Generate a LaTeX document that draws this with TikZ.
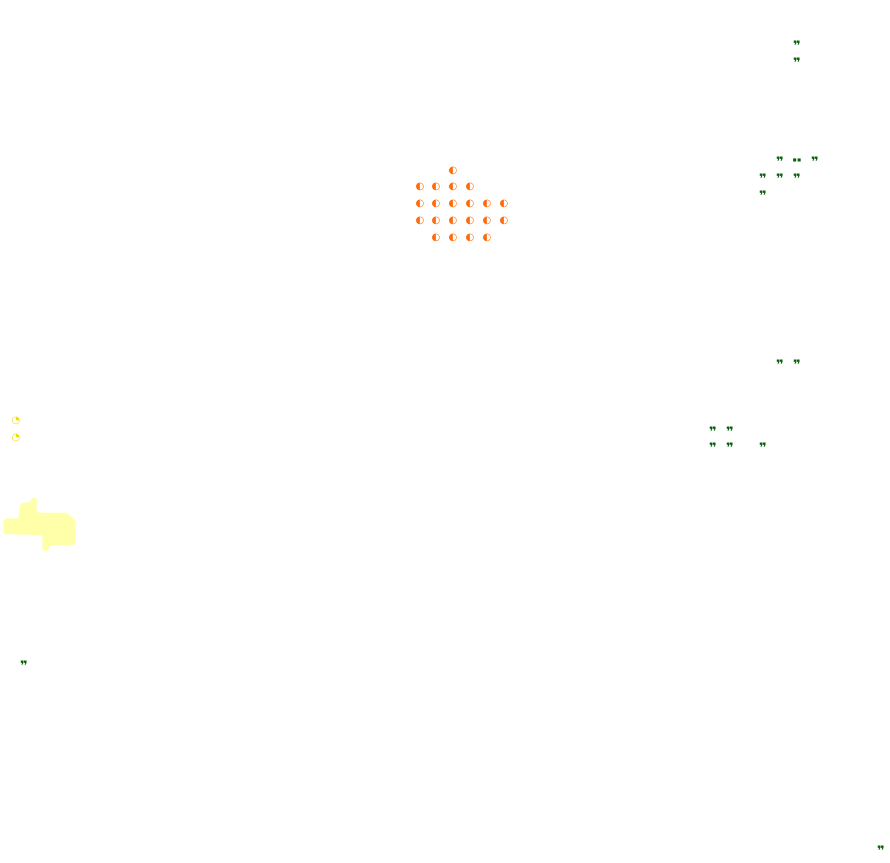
\documentclass[tikz,border=0pt]{standalone}
\usepackage{fontspec}
\newfontfamily\symfont{DejaVu Sans}
\tikzset{
  gmark/.style={inner sep=0pt, text=mkgreen, yshift=-4pt, font=\symfont\bfseries\fontsize{13}{13}\selectfont},
  omark/.style={inner sep=0pt, text=mkorange, yshift=-1.5pt, font=\symfont\fontsize{10}{10}\selectfont},
  ymark/.style={inner sep=0pt, text=mkyellow, yshift=-1pt, font=\symfont\fontsize{10}{10}\selectfont},
}
\definecolor{mkgreen}{HTML}{0B5E0B}
\definecolor{mkorange}{HTML}{FF6A0A}
\definecolor{mkyellow}{HTML}{F0DC10}
\definecolor{blob}{HTML}{FFFFAA}
\begin{document}
\begin{tikzpicture}[x=1pt,y=-1pt]
\useasboundingbox (0,0) rectangle (890,862);
% yellow area
\fill[blob, rounded corners=1pt] (3.3,521) -- (6,518.3) -- (18.3,518.3) -- (20,505) -- (21,503.3) -- (29.3,502.3) -- (34,496.7) -- (36.7,499) -- (36.7,511.7) -- (38.3,512.7) -- (66.7,512.7) -- (75.7,521) -- (75.7,543.3) -- (73.3,545) -- (50,545) -- (49.3,549) -- (45,551.7) -- (42.3,549) -- (42.3,535) -- (6,534.3) -- (3.3,531.7) -- cycle;
% green marks
\foreach \n/\x/\y in {g1/797/42, g2/797/59, g3/780/158, g5/815/158,
  g6/763/175, g7/780/175, g8/797/175, g9/763/192, g10/780/361, g11/797/361,
  g12/713/428, g13/730/428, g14/713/444, g15/730/444, g16/763/444,
  g17/24/662, g18/881/847}
  \node[gmark] (\n) at (\x,\y) {❞};
\node[inner sep=0pt, text=mkgreen, yshift=-2pt, font=\symfont\fontsize{4}{4}\selectfont] (g4) at (797,158) {■\kern0.6pt■};
% orange marks
\node[omark] (o0) at (453,169) {◐};
\foreach \x [count=\i] in {420,436,453,470} \node[omark] (oa\i) at (\x,185) {◐};
\foreach \x [count=\i] in {420,436,453,470,487,504} \node[omark] (ob\i) at (\x,202) {◐};
\foreach \x [count=\i] in {420,436,453,470,487,504} \node[omark] (oc\i) at (\x,219) {◐};
\foreach \x [count=\i] in {436,453,470,487} \node[omark] (od\i) at (\x,236) {◐};
% yellow marks
\node[ymark] (y1) at (16,420) {◔};
\node[ymark] (y2) at (16,437) {◔};
\end{tikzpicture}
\end{document}
